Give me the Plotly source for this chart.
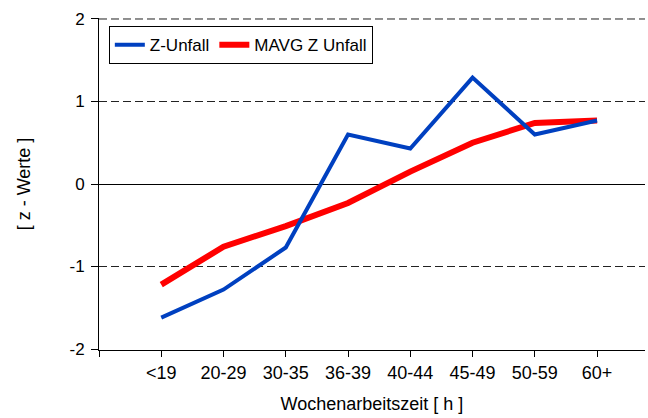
import plotly.graph_objects as go

categories = ["<19", "20-29", "30-35", "36-39", "40-44", "45-49", "50-59", "60+"]
z_unfall = [-1.62, -1.28, -0.77, 0.60, 0.43, 1.29, 0.60, 0.77]
mavg_z_unfall = [-1.22, -0.76, -0.51, -0.23, 0.15, 0.50, 0.74, 0.77]
y_ticks = [-2, -1, 0, 1, 2]
y_tick_labels = ["-2", "-1", "0", "1", "2"]

xpos = list(range(len(categories)))

fig = go.Figure()
fig.add_trace(go.Scatter(
    x=xpos, y=mavg_z_unfall, mode="lines", name="MAVG Z Unfall",
    line=dict(color="#FF0000", width=6), legendrank=2))
fig.add_trace(go.Scatter(
    x=xpos, y=z_unfall, mode="lines", name="Z-Unfall",
    line=dict(color="#0040C0", width=4), legendrank=1))

# top gridline (plotly drops gridlines at the range edge)
fig.add_hline(y=y_ticks[-1], line=dict(color="#222222", width=1, dash="8px,4px"),
              layer="below")

font = "Liberation Sans, Arial, sans-serif"
fig.update_layout(
    width=648, height=418,
    margin=dict(l=99, r=3, t=18, b=68, autoexpand=False),
    plot_bgcolor="white", paper_bgcolor="white",
    font=dict(family=font, size=18, color="black"),
    showlegend=True,
    legend=dict(
        orientation="h", x=0.018, y=0.975, xanchor="left", yanchor="top",
        bordercolor="black", borderwidth=1, bgcolor="white",
        font=dict(size=17, family=font), itemwidth=30,
        tracegroupgap=0),
    xaxis=dict(
        range=[-1, 7.77], tickvals=[-1] + xpos, ticktext=[""] + categories,
        showgrid=False, zeroline=False, automargin=False,
        showline=True, linecolor="black", linewidth=1,
        ticks="outside", ticklen=6, tickcolor="black",
        tickfont=dict(size=18),
        title=dict(text="Wochenarbeitszeit [ h ]", standoff=15,
                   font=dict(size=18))),
    yaxis=dict(
        range=[-2.012, 2.012], tickvals=y_ticks, ticktext=y_tick_labels,
        automargin=False,
        showgrid=True, gridcolor="#222222", griddash="8px,4px", gridwidth=1,
        zeroline=True, zerolinecolor="black", zerolinewidth=1,
        showline=True, linecolor="black", linewidth=1,
        ticks="outside", ticklen=7, tickcolor="black",
        ticklabelstandoff=3,
        tickfont=dict(size=17),
        title=dict(text="[ z - Werte ]", standoff=34, font=dict(size=18))),
)

fig.write_html("out.html", config={"displayModeBar": False},
               post_script="document.body.style.margin='0';")
